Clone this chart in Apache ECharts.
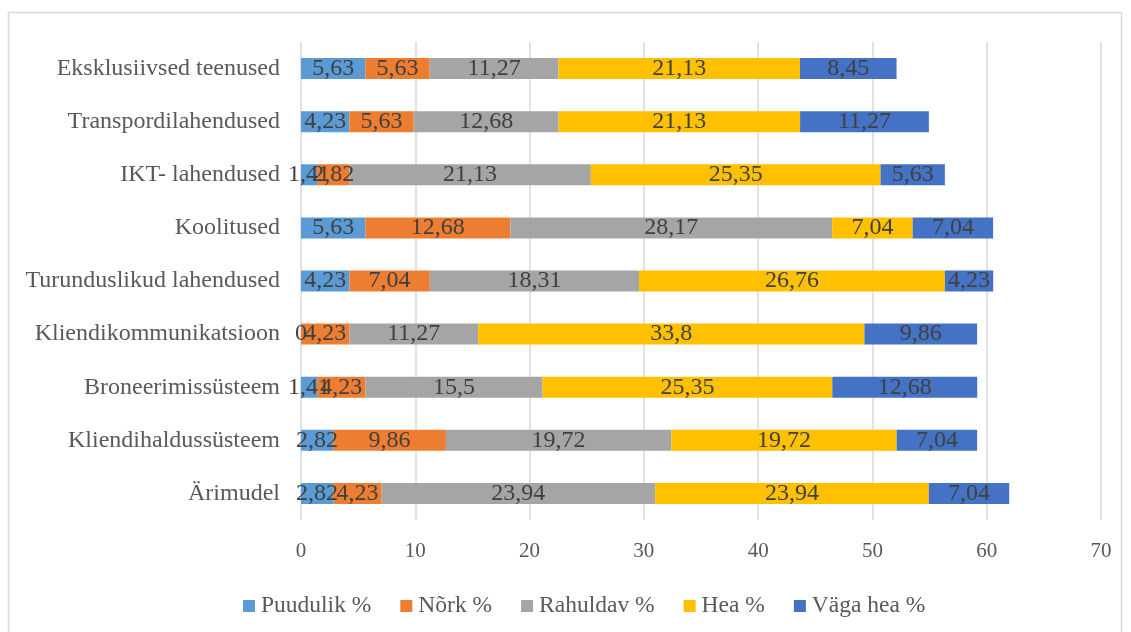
<!DOCTYPE html>
<html lang="et">
<head>
<meta charset="UTF-8">
<title>Hinnangud</title>
<script src="https://cdn.jsdelivr.net/npm/echarts@6/dist/echarts.min.js"></script>
<style>
  html, body { margin: 0; padding: 0; background: #fff; }
  #chart { width: 1131px; height: 632px; }
</style>
</head>
<body>
<div id="chart"></div>
<script>
  // categories, bottom to top
  var categories = ['Ärimudel', 'Kliendihaldussüsteem', 'Broneerimissüsteem', 'Kliendikommunikatsioon',
    'Turunduslikud lahendused', 'Koolitused', 'IKT- lahendused', 'Transpordilahendused', 'Eksklusiivsed teenused'];

  var puudulik = [2.82, 2.82, 1.41, 0, 4.23, 5.63, 1.41, 4.23, 5.63];
  var nork     = [4.23, 9.86, 4.23, 4.23, 7.04, 12.68, 2.82, 5.63, 5.63];
  var rahuldav = [23.94, 19.72, 15.5, 11.27, 18.31, 28.17, 21.13, 12.68, 11.27];
  var hea      = [23.94, 19.72, 25.35, 33.8, 26.76, 7.04, 25.35, 21.13, 21.13];
  var vagaHea  = [7.04, 7.04, 12.68, 9.86, 4.23, 7.04, 5.63, 11.27, 8.45];

  var seriesNames = ['Puudulik %', 'Nõrk %', 'Rahuldav %', 'Hea %', 'Väga hea %'];
  var seriesData = [puudulik, nork, rahuldav, hea, vagaHea];
  var colors = ['#5b9bd5', '#ed7d31', '#a5a5a5', '#ffc000', '#4472c4'];

  var font = '"Liberation Serif", "Times New Roman", serif';

  var myChart = echarts.init(document.getElementById('chart'));

  myChart.setOption({
    animation: false,
    color: colors,
    textStyle: { fontFamily: font },
    graphic: [{
      type: 'rect',
      shape: { x: 8.5, y: 12.5, width: 1113, height: 640 },
      style: { fill: 'none', stroke: '#d9d9d9', lineWidth: 1.5 },
      silent: true
    }],
    legend: {
      top: 589,
      left: 238,
      itemWidth: 12,
      itemHeight: 12,
      itemGap: 29,
      icon: 'rect',
      textStyle: { fontFamily: font, fontSize: 23.5, color: '#595959', padding: [0, 0, 0, 1] },
      data: seriesNames
    },
    grid: { left: 301, right: 30, top: 42, bottom: 112 },
    xAxis: {
      type: 'value',
      min: 0,
      max: 70,
      interval: 10,
      axisLine: { show: false },
      axisTick: { show: false },
      splitLine: { lineStyle: { color: '#d9d9d9', width: 1.5 } },
      axisLabel: { fontFamily: font, fontSize: 21, color: '#595959', margin: 21 }
    },
    yAxis: {
      type: 'category',
      data: categories,
      axisLine: { show: false },
      axisTick: { show: false },
      axisLabel: { fontFamily: font, fontSize: 24, color: '#595959', margin: 21 }
    },
    series: seriesData.map(function (d, i) {
      return {
        name: seriesNames[i],
        type: 'bar',
        stack: 'total',
        barWidth: 21,
        data: d,
        itemStyle: { color: colors[i] },
        label: {
          show: true,
          position: 'inside',
          fontFamily: font,
          fontSize: 24,
          color: '#404040',
          formatter: function (p) { return String(p.value).replace('.', ','); }
        }
      };
    })
  });
</script>
</body>
</html>
